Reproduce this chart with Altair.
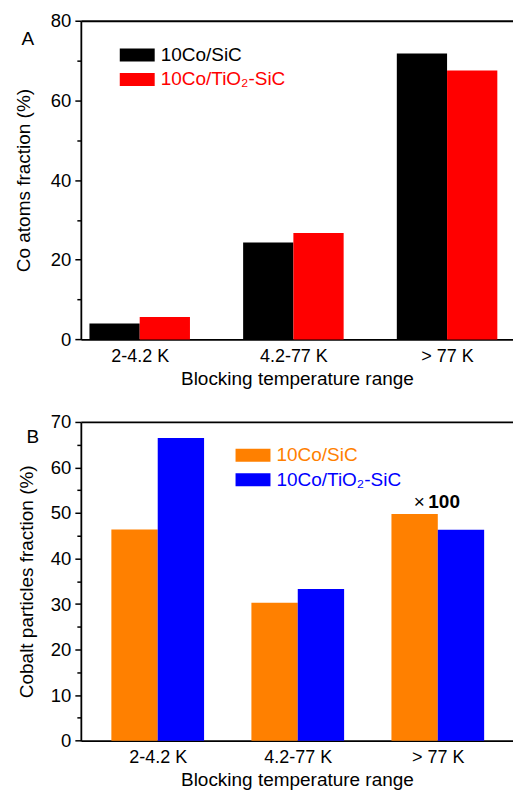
import json
import altair as alt
import pandas as pd

cats = ["2-4.2 K", "4.2-77 K", "> 77 K"]
series = ["10Co/SiC", "10Co/TiO₂-SiC"]
a_sic = [4.0, 24.3, 71.8]
a_tio2 = [5.6, 26.7, 67.5]
b_sic = [46.4, 30.3, 49.8]
b_tio2 = [66.5, 33.3, 46.3]

FONT = "Liberation Sans"
SWATCH = "M-1,-0.371H1V0.371H-1Z"


def frame(v0, v1):
    rows = []
    for i, c in enumerate(cats):
        rows.append({"cat": c, "idx": i + 1, "series": series[0], "order": 0, "value": v0[i]})
        rows.append({"cat": c, "idx": i + 1, "series": series[1], "order": 1, "value": v1[i]})
    return pd.DataFrame(rows)


label_expr = json.dumps(cats) + "[datum.value - 1]"


def panel(df, xdom, bw, ydom, ymajor, yminor, ytitle, colors, label_colors,
          legend_x, legend_ys, letter, letter_xy, title_pad, annotate=False):
    base = alt.Chart(df).transform_calculate(
        x0=f"datum.idx - {bw} + datum.order * {bw}",
        x1=f"datum.idx + datum.order * {bw}",
    )
    xscale = alt.Scale(domain=xdom, nice=False, zero=False)
    yscale = alt.Scale(domain=ydom, nice=False, zero=True)
    x_axis = alt.Axis(values=[1, 2, 3], labelExpr=label_expr, ticks=False, grid=False,
                      title="Blocking temperature range", labelPadding=8, titlePadding=4,
                      orient="bottom", labelAngle=0, labelFontSize=18)
    y_axis = alt.Axis(values=ymajor, tickSize=6, grid=False, title=ytitle,
                      labelPadding=4, titlePadding=title_pad, orient="left")
    layers = []
    for k in range(2):
        layers.append(
            base.transform_filter(alt.datum.order == k).mark_bar(opacity=1).encode(
                x=alt.X("x0:Q", scale=xscale, axis=x_axis if k == 0 else None),
                x2="x1:Q",
                y=alt.Y("value:Q", scale=yscale, axis=y_axis if k == 0 else None),
                y2=alt.datum(0),
                color=alt.Color(
                    "series:N",
                    scale=alt.Scale(domain=[series[k]], range=[colors[k]]),
                    legend=alt.Legend(
                        orient="none", legendX=legend_x, legendY=legend_ys[k], title=None,
                        symbolType=SWATCH, symbolSize=1225, symbolStrokeWidth=0,
                        symbolOpacity=1, labelColor=label_colors[k], labelFont=FONT,
                        labelFontSize=19, labelOffset=6, padding=0,
                    ),
                ),
            )
        )
    # minor ticks on y and top frame line
    layers.append(
        base.mark_bar(opacity=0).encode(
            x=alt.X("x0:Q", scale=xscale,
                    axis=alt.Axis(orient="top", labels=False, ticks=False, grid=False, title=None)),
            x2="x1:Q",
            y=alt.Y("value:Q", scale=yscale,
                    axis=alt.Axis(orient="left", values=yminor, labels=False, domain=False,
                                  tickSize=4, grid=False, title=None)),
            y2=alt.datum(0),
        )
    )
    if annotate:
        ann = base.transform_filter((alt.datum.idx == 3) & (alt.datum.order == 0))
        layers.append(
            ann.mark_text(text="×", align="right", baseline="middle", dx=-13, dy=-12,
                          font=FONT, fontSize=19, color="black").encode(
                x=alt.X("idx:Q", scale=xscale, axis=None),
                y=alt.Y("value:Q", scale=yscale, axis=None),
            )
        )
        layers.append(
            ann.mark_text(text="100", align="left", baseline="middle", dx=-9.5, dy=-12,
                          font=FONT, fontSize=19, fontWeight="bold", color="black").encode(
                x=alt.X("idx:Q", scale=xscale, axis=None),
                y=alt.Y("value:Q", scale=yscale, axis=None),
            )
        )
    layers.append(
        alt.Chart(pd.DataFrame({"t": [letter]})).mark_text(
            font=FONT, fontSize=19, align="center", baseline="middle", color="black"
        ).encode(text="t:N", x=alt.value(letter_xy[0]), y=alt.value(letter_xy[1]))
    )
    return alt.layer(*layers).resolve_scale(color="independent").resolve_axis(
        x="independent", y="independent"
    ).properties(width=433, height=319.3)


panel_a = panel(frame(a_sic, a_tio2), [0.617, 3.429], 0.327, [0, 80],
                [0, 20, 40, 60, 80], [10, 30, 50, 70], "Co atoms fraction (%)",
                ["#000000", "#ff0000"], ["#000000", "#ff0000"],
                39, [16.8, 41.3], "A", (-53, 18), 17)
panel_b = panel(frame(b_sic, b_tio2), [0.451, 3.537], 0.331, [0, 70],
                [0, 10, 20, 30, 40, 50, 60, 70], [5, 15, 25, 35, 45, 55, 65],
                "Cobalt particles fraction (%)",
                ["#ff8000", "#0000ff"], ["#ff8000", "#0000ff"],
                155, [15.9, 40.5], "B", (-48, 15), 14, annotate=True)

chart = alt.vconcat(panel_a, panel_b, spacing=24).properties(
    padding={"left": 14, "top": 11, "right": 0, "bottom": 0},
    background="white",
).configure_view(stroke=None).configure_axis(
    domainColor="black", domainWidth=1.8, tickColor="black", tickWidth=1.5,
    labelColor="black", titleColor="black", labelFont=FONT, titleFont=FONT,
    labelFontSize=18.5, titleFontSize=19, titleFontWeight="normal",
)

chart.save("out.html", embed_options={"renderer": "svg", "actions": False})
